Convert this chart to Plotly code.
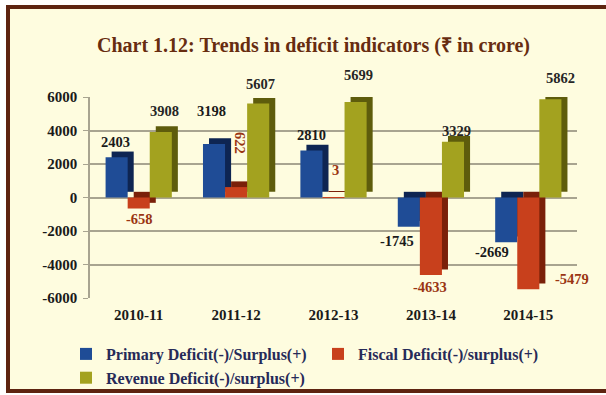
import plotly.graph_objects as go

# ---- data -------------------------------------------------------------
years = ["2010-11", "2011-12", "2012-13", "2013-14", "2014-15"]
primary = [2403, 3198, 2810, -1745, -2669]
fiscal = [-658, 622, 3, -4633, -5479]
revenue = [3908, 5607, 5699, 3329, 5862]
y_ticks = [6000, 4000, 2000, 0, -2000, -4000, -6000]

series_names = [
    "Primary Deficit(-)/Surplus(+)",
    "Fiscal Deficit(-)/surplus(+)",
    "Revenue Deficit(-)/surplus(+)",
]
series_values = [primary, fiscal, revenue]

# ---- styling ----------------------------------------------------------
front_colors = ["#1f4c96", "#c8401c", "#a3a21f"]
side_colors = ["#0e2552", "#7a2009", "#5e5c0c"]
label_colors = ["#1a1a1a", "#9a3512", "#262626"]
SERIF = "Liberation Serif, Times New Roman, serif"
CREAM = "#fefcdf"

BAR_W = 0.2267          # width of one bar in category units
DEPTH_X = 0.062         # extrusion to the right (category units)
DEPTH_Y = 340           # extrusion upwards (value units)

# label nudges in pixels (xshift, yshift) per series / category
label_nudge = [
    [(-1, 15), (-3, 33), (0, 15), (-12, -14), (-14, -10)],
    [(1, -10), (4, 44), (2, 27), (-1, -12), (44, 10)],
    [(4, 21), (2, 20), (3, 27), (4, 11), (10, 21)],
]
label_angle = [
    [0, 0, 0, 0, 0],
    [0, 90, 0, 0, 0],
    [0, 0, 0, 0, 0],
]

L, R, T, B = 90, 29, 97, 97
W, H = 606, 395


def px_x(p):
    return (p - L) / (W - L - R)


def px_y(p):
    return (H - B - p) / (H - T - B)


xs = list(range(len(years)))
fig = go.Figure()

for k, (name, vals) in enumerate(zip(series_names, series_values)):
    offset = (k - 1.5) * BAR_W
    # darker block behind the face gives a simple extruded look
    fig.add_trace(go.Bar(
        x=xs, y=vals, base=[DEPTH_Y] * len(vals),
        width=BAR_W, offset=offset + DEPTH_X,
        marker=dict(color=side_colors[k], line=dict(width=0)),
        showlegend=False, hoverinfo="skip",
    ))
    fig.add_trace(go.Bar(
        x=xs, y=vals, name=name,
        width=BAR_W, offset=offset,
        marker=dict(color=front_colors[k], line=dict(width=0)),
    ))

annotations = []
for k, vals in enumerate(series_values):
    center_off = (k - 1) * BAR_W
    for i, v in enumerate(vals):
        dx, dy = label_nudge[k][i]
        annotations.append(dict(
            x=i + center_off, y=v, xref="x", yref="y",
            text=f"{v}", showarrow=False,
            xshift=dx, yshift=dy, textangle=label_angle[k][i],
            font=dict(family=SERIF, size=14.5, color=label_colors[k], weight="bold"),
        ))

# chart title
annotations.append(dict(
    x=px_x(313), y=px_y(32),
    xref="paper", yref="paper", showarrow=False,
    text="Chart 1.12: Trends in deficit indicators (₹ in crore)",
    font=dict(family=SERIF, size=20, color="#672c10", weight="bold"),
))

shapes = [dict(
    type="rect", xref="paper", yref="paper", layer="below",
    x0=px_x(8), x1=px_x(640), y0=px_y(391), y1=px_y(7),
    fillcolor=CREAM, line=dict(color="#5e2410", width=4),
)]

fig.update_layout(
    width=W, height=H,
    margin=dict(l=L, r=R, t=T, b=B, autoexpand=False),
    paper_bgcolor="#ffffff",
    plot_bgcolor="rgba(0,0,0,0)",
    barmode="overlay",
    showlegend=True,
    legend=dict(
        orientation="h",
        x=px_x(66), y=px_y(337), xanchor="left", yanchor="top",
        entrywidth=207, entrywidthmode="pixels",
        font=dict(family=SERIF, size=16, color="#262a58", weight="bold"),
        bgcolor="rgba(0,0,0,0)", tracegroupgap=0, itemwidth=30,
    ),
    xaxis=dict(
        range=[-0.5, len(years) - 0.5],
        tickvals=xs, ticktext=years,
        showgrid=False, zeroline=False, showline=False,
        ticks="", ticklabelstandoff=6,
        tickfont=dict(family=SERIF, size=15, color="#1a1a1a", weight="bold"),
    ),
    yaxis=dict(
        range=[-6000, 6000],
        tickvals=y_ticks, ticktext=[str(t) for t in y_ticks],
        showgrid=True, gridcolor="#a8a490", gridwidth=1.5,
        zeroline=True, zerolinecolor="#a8a490", zerolinewidth=1.5,
        showline=True, linecolor="#a8a490", linewidth=1.5,
        ticks="outside", ticklen=5, tickcolor="#a8a490", ticklabelstandoff=3,
        tickfont=dict(family=SERIF, size=15, color="#1a1a1a", weight="bold"),
    ),
    annotations=annotations,
    shapes=shapes,
)

fig.write_html("out.html")
